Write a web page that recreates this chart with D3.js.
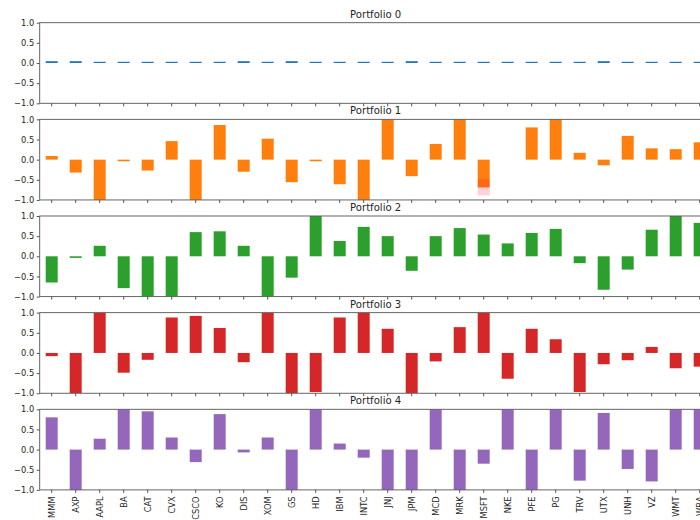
<!DOCTYPE html>
<html>
<head>
<meta charset="utf-8">
<script src="https://cdn.jsdelivr.net/npm/d3@7"></script>
<style>
  html, body { margin: 0; padding: 0; background: #fff; }
  svg { display: block; }
  text { font-family: "DejaVu Sans", sans-serif; fill: #262626; }
</style>
</head>
<body>
<svg id="chart" width="700" height="520"></svg>
<script>
// Dow Jones constituents in portfolio order
const assets = ["MMM","AXP","AAPL","BA","CAT","CVX","CSCO","KO","DIS","XOM","GS","HD","IBM","INTC",
                "JNJ","JPM","MCD","MRK","MSFT","NKE","PFE","PG","TRV","UTX","UNH","VZ","WMT","WBA"];

// Weights of each portfolio
const portfolio0 = [0.045,0.045,0.03,0.03,0.03,0.03,0.03,0.03,0.045,0.03,0.045,0.03,0.03,0.03,
                    0.03,0.045,0.03,0.03,0.03,0.03,0.03,0.03,0.03,0.045,0.03,0.03,0.03,0.03];
const portfolio1 = [0.09,-0.32,-1.0,-0.04,-0.27,0.46,-1.0,0.86,-0.30,0.52,-0.56,-0.04,-0.61,-1.0,
                    1.0,-0.41,0.39,1.0,-0.69,0.0,0.80,1.0,0.17,-0.14,0.59,0.28,0.26,0.43];
const portfolio2 = [-0.65,-0.04,0.26,-0.79,-1.0,-1.0,0.60,0.62,0.26,-1.0,-0.53,1.0,0.38,0.73,
                    0.50,-0.36,0.50,0.70,0.54,0.32,0.58,0.68,-0.17,-0.83,-0.33,0.66,1.0,0.83];
const portfolio3 = [-0.08,-1.0,1.0,-0.49,-0.17,0.88,0.92,0.62,-0.23,1.0,-1.0,-0.97,0.88,1.0,
                    0.60,-1.0,-0.21,0.64,1.0,-0.64,0.60,0.34,-0.97,-0.28,-0.18,0.15,-0.38,-0.34];
const portfolio4 = [0.80,-1.0,0.27,1.0,0.95,0.30,-0.31,0.88,-0.07,0.30,-1.0,1.0,0.15,-0.20,
                    -1.0,-1.0,1.0,-1.0,-0.35,1.0,-1.0,1.0,-0.77,0.91,-0.48,-0.79,1.0,1.0];

const portfolioNames = ["Portfolio 0","Portfolio 1","Portfolio 2","Portfolio 3","Portfolio 4"];
const portfolioColors = ["#1f77b4","#ff7f0e","#2ca02c","#d62728","#9467bd"];
const yTicks = [-1.0,-0.5,0.0,0.5,1.0];

// Translucent overlay band on one bar of Portfolio 1
const overlayPanel = 1;
const overlayAsset = "MSFT";
const overlayRange = [-0.48, -0.89];

const series = [portfolio0, portfolio1, portfolio2, portfolio3, portfolio4];

const svg = d3.select("#chart");
const left = 39.7, right = 711.7;
const firstTop = 22.7, panelStep = 96.65, panelH = 80.6;
const axisColor = "#555";

const x = d3.scaleBand().domain(assets).range([left, right])
  .paddingInner(0.5).paddingOuter(0.25);

const defs = svg.append("defs");

series.forEach((vals, i) => {
  const top = firstTop + i * panelStep;
  const bottom = top + panelH;
  const y = d3.scaleLinear().domain([-1, 1]).range([bottom, top]);
  const g = svg.append("g");

  defs.append("clipPath").attr("id", "clip" + i)
    .append("rect").attr("x", left).attr("y", top)
    .attr("width", right - left).attr("height", panelH);

  const bars = g.append("g").attr("clip-path", `url(#clip${i})`);
  bars.selectAll("rect")
    .data(assets.map((a, k) => ({ a, v: vals[k] })))
    .join("rect")
    .attr("x", d => x(d.a))
    .attr("width", x.bandwidth())
    .attr("y", d => y(Math.max(0, d.v)))
    .attr("height", d => Math.abs(y(d.v) - y(0)))
    .attr("fill", portfolioColors[i]);

  if (i === overlayPanel) {
    bars.append("rect")
      .attr("x", x(overlayAsset))
      .attr("width", x.bandwidth())
      .attr("y", y(overlayRange[0]))
      .attr("height", y(overlayRange[1]) - y(overlayRange[0]))
      .attr("fill", "rgb(255,0,40)")
      .attr("opacity", 0.18);
  }

  // y axis
  const yAxis = d3.axisLeft(y).tickValues(yTicks)
    .tickFormat(d => d3.format(".1f")(d).replace("-", "\u2212"))
    .tickSize(3).tickPadding(2.5);
  const ya = g.append("g").attr("transform", `translate(${left},0)`).call(yAxis);
  ya.select(".domain").remove();
  ya.selectAll("line").attr("stroke", axisColor);
  ya.selectAll("text").attr("font-size", "8.3px").attr("fill", "#262626")
    .style("font-family", "'DejaVu Sans', sans-serif");

  // x axis
  const xAxis = d3.axisBottom(x).tickSize(3).tickPadding(4);
  const xa = g.append("g").attr("transform", `translate(0,${bottom})`).call(xAxis);
  xa.select(".domain").remove();
  xa.selectAll("line").attr("stroke", axisColor);
  if (i === series.length - 1) {
    xa.selectAll("text")
      .attr("font-size", "8.3px")
      .attr("fill", "#262626")
      .style("font-family", "'DejaVu Sans', sans-serif")
      .attr("text-anchor", "end")
      .attr("transform", "rotate(-90)")
      .attr("x", -6.5)
      .attr("y", 0)
      .attr("dy", "0.35em");
  } else {
    xa.selectAll("text").remove();
  }

  // frame
  g.append("rect")
    .attr("x", left).attr("y", top)
    .attr("width", right - left).attr("height", panelH)
    .attr("fill", "none").attr("stroke", axisColor).attr("stroke-width", 0.9);

  // title
  g.append("text")
    .attr("x", (left + right) / 2)
    .attr("y", top - 5)
    .attr("text-anchor", "middle")
    .attr("font-size", "10.1px")
    .text(portfolioNames[i]);
});
</script>
</body>
</html>
